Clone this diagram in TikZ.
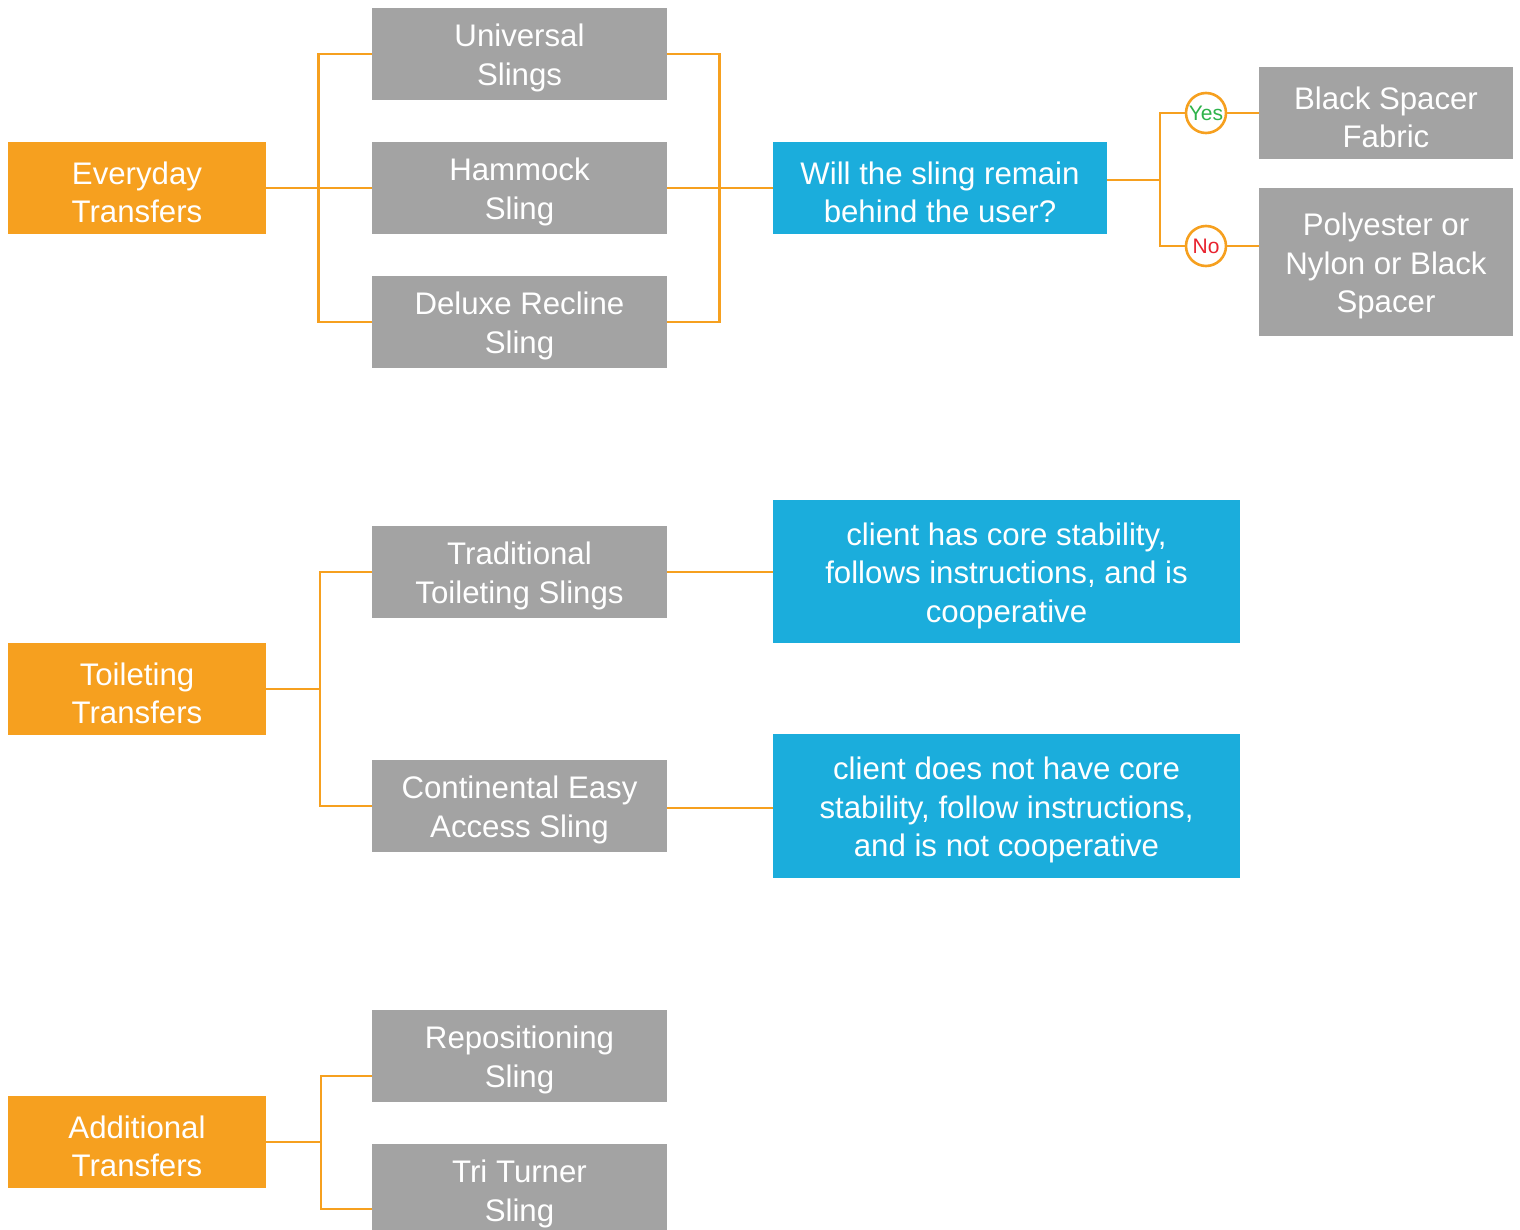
\documentclass[tikz,border=0pt]{standalone}
\usepackage{fontspec}
\setmainfont{Liberation Sans}
\definecolor{orng}{HTML}{F6A01F}
\definecolor{gry}{HTML}{A3A3A3}
\definecolor{blu}{HTML}{1BADDC}
\definecolor{yesg}{HTML}{2DB34A}
\definecolor{nor}{HTML}{E8232F}
\newcommand\tp{\rule{0pt}{15.5pt}}
\begin{document}
\begin{tikzpicture}[x=0.5pt,y=-0.5pt,
  base/.style={inner sep=0pt,align=center,text=white,font=\fontsize{15.6}{19.3}\selectfont},
  cat/.style={base,fill=orng,minimum width=129pt,minimum height=46pt},
  sling/.style={base,fill=gry,minimum width=147.5pt,minimum height=46pt},
  cond/.style={base,fill=blu},
  answer/.style={circle,draw=orng,line width=1.3pt,fill=white,minimum size=20pt,inner sep=0pt,font=\fontsize{10.5}{12}\selectfont},
  conn/.style={draw=orng,line width=1.4pt}]
\useasboundingbox (0,0) rectangle (1520,1230);
\clip (0,0) rectangle (1520,1230);
% Everyday
\node[cat] (ev) at (137,188) {\tp Everyday\\Transfers};
\node[sling] (uni) at (519.5,54) {\tp Universal\\Slings};
\node[sling] (ham) at (519.5,188) {\tp Hammock\\Sling};
\node[sling] (del) at (519.5,322) {\tp Deluxe Recline\\Sling};
\node[cond,minimum width=167pt,minimum height=46pt] (will) at (940,188) {\tp Will the sling remain\\behind the user?};
\node[base,fill=gry,minimum width=127pt,minimum height=46pt] (bsf) at (1386,113) {\tp Black Spacer\\Fabric};
\node[base,fill=gry,minimum width=127pt,minimum height=74pt] (poly) at (1386,262) {\tp Polyester or\\Nylon or Black\\Spacer};
\node[answer,text=yesg] (yes) at (1206,113) {Yes};
\node[answer,text=nor] (no) at (1206,246) {No};
\draw[conn] (ev.east) -- (ham.west);
\draw[conn] (uni.west) -- ++(-53,0) |- (del.west);
\draw[conn] (uni.east) -- ++(52,0) |- (del.east);
\draw[conn] (ham.east) -- (will.west);
\coordinate (wj) at (1160,180);
\draw[conn] ([yshift=4pt]will.east) -- (wj);
\draw[conn] (yes.west) -| (wj) |- (no.west);
\draw[conn] (yes.east) -- (bsf.west |- yes.east);
\draw[conn] (no.east) -- (poly.west |- no.east);
% Toileting
\node[cat] (toil) at (137,689) {\tp Toileting\\Transfers};
\node[sling] (trad) at (519.5,572) {\tp Traditional\\Toileting Slings};
\node[sling] (cont) at (519.5,806) {\tp Continental Easy\\Access Sling};
\node[cond,minimum width=233.5pt,minimum height=71.5pt] (c1) at (1006.5,571.5) {\tp client has core stability,\\follows instructions, and is\\cooperative};
\node[cond,minimum width=233.5pt,minimum height=72pt] (c2) at (1006.5,806) {\tp client does not have core\\stability, follow instructions,\\and is not cooperative};
\coordinate (tj) at (320,689);
\draw[conn] (toil.east) -- (tj);
\draw[conn] (trad.west) -| (tj) |- (cont.west);
\draw[conn] (trad.east) -- (c1.west |- trad.east);
\draw[conn] ([yshift=-1pt]cont.east) -- ([yshift=-1pt]c2.west |- cont.east);
% Additional
\node[cat] (add) at (137,1142) {\tp Additional\\Transfers};
\node[sling] (rep) at (519.5,1056) {\tp Repositioning\\Sling};
\node[sling] (tri) at (519.5,1190) {\tp Tri Turner\\Sling};
\coordinate (aj) at (321,1142);
\draw[conn] (add.east) -- (aj);
\draw[conn] ([yshift=-10pt]rep.west) -| (aj) |- ([yshift=-9.5pt]tri.west);
\end{tikzpicture}
\end{document}
